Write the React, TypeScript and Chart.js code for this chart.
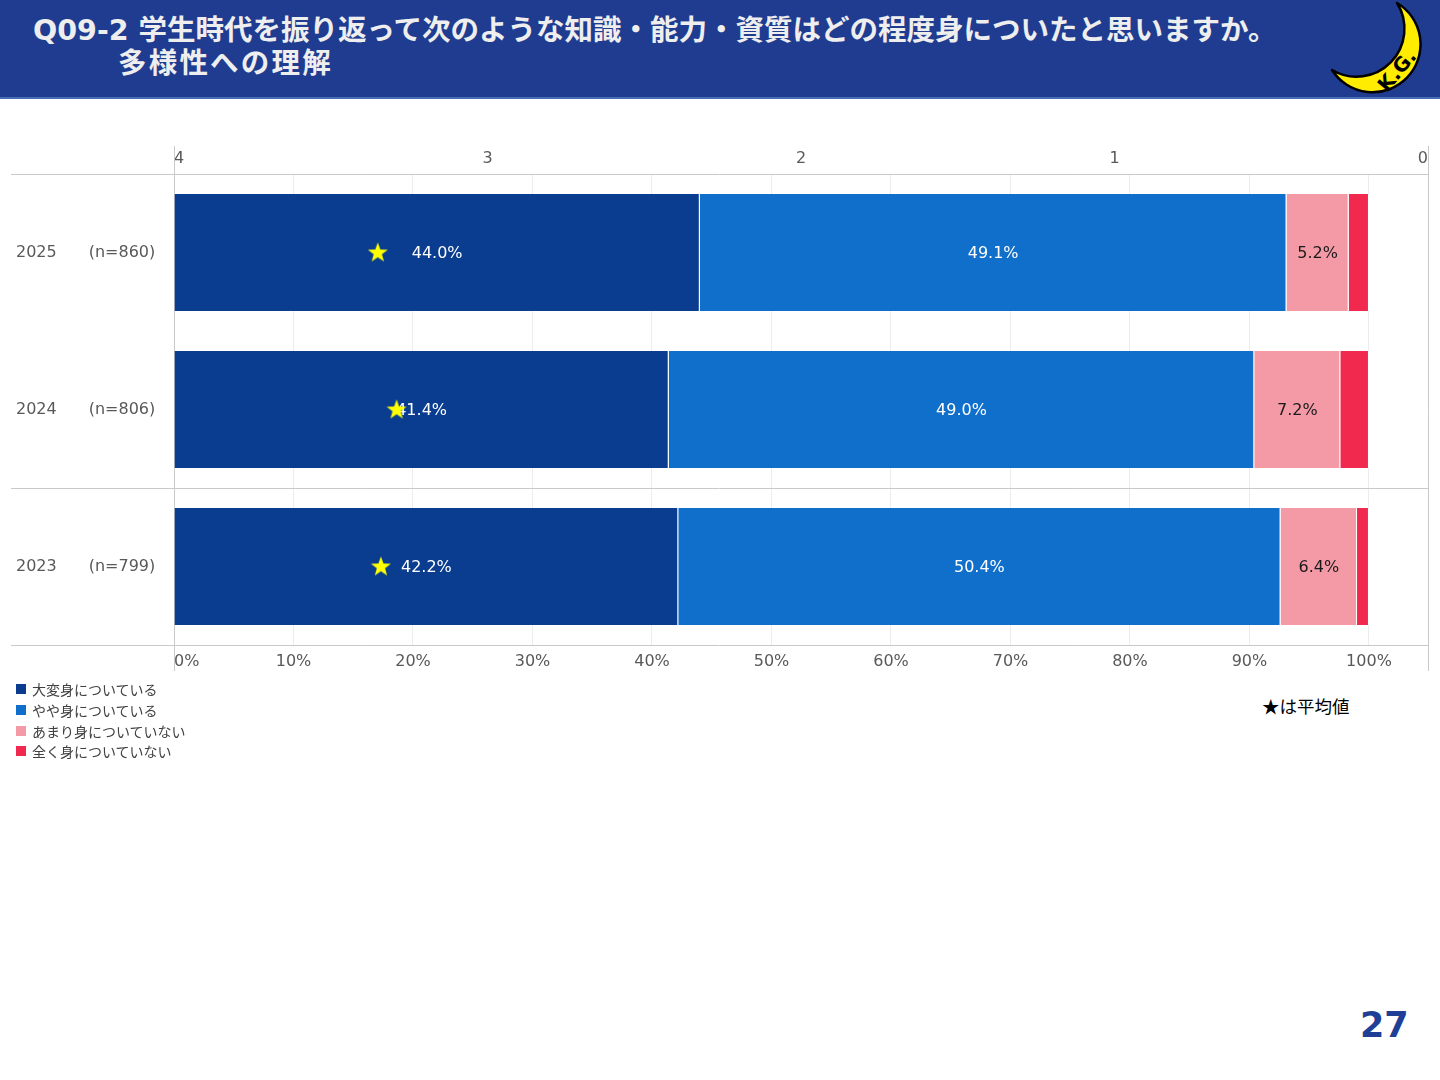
import React, { useEffect, useRef } from "react";
import { Chart, registerables } from "chart.js";

Chart.register(...registerables);

// ---- data ----
const categories = ["2025　　(n=860)", "2024　　(n=806)", "2023　　(n=799)"];
const seriesNames = ["大変身についている", "やや身についている", "あまり身についていない", "全く身についていない"];
const seriesColors = ["#0a3d8f", "#0f6fcb", "#f49aa7", "#f2294f"];
const labelColors = ["#ffffff", "#ffffff", "#1a1a1a", null];
const veryMuch = [44.0, 41.4, 42.2];
const somewhat = [49.1, 49.0, 50.4];
const notMuch = [5.2, 7.2, 6.4];
const notAtAll = [1.7, 2.4, 1.0];
const meanScores = [3.35, 3.29, 3.34];
const percentTicks = [0, 10, 20, 30, 40, 50, 60, 70, 80, 90, 100];
const percentAxisMax = 104.94;
const scoreTicks = [0, 1, 2, 3, 4];

const FONT = "'DejaVu Sans', 'Noto Sans CJK JP', sans-serif";

function makeStar(): HTMLCanvasElement {
  const c = document.createElement("canvas");
  c.width = 22;
  c.height = 22;
  const g = c.getContext("2d")!;
  g.fillStyle = "#ffff00";
  g.beginPath();
  const cx = 11, cy = 11.5, R = 10.5, r = 4.3;
  for (let i = 0; i < 10; i++) {
    const ang = -Math.PI / 2 + (i * Math.PI) / 5;
    const rad = i % 2 === 0 ? R : r;
    const px = cx + rad * Math.cos(ang);
    const py = cy + rad * Math.sin(ang);
    if (i === 0) g.moveTo(px, py);
    else g.lineTo(px, py);
  }
  g.closePath();
  g.fill();
  return c;
}

const decorPlugin = {
  id: "decor",
  beforeDatasetsDraw(chart: any) {
    const { ctx, chartArea } = chart;
    const y = chart.scales.y;
    ctx.save();
    ctx.strokeStyle = "#c9c9c9";
    ctx.lineWidth = 1;
    const step = (chartArea.bottom - chartArea.top) / categories.length;
    const bounds = [chartArea.top, y.getPixelForValue(1) + step / 2, chartArea.bottom];
    bounds.forEach((yy: number) => {
      const p = Math.round(yy) + 0.5;
      ctx.beginPath();
      ctx.moveTo(11, p);
      ctx.lineTo(chartArea.right, p);
      ctx.stroke();
    });
    [chartArea.left, chartArea.right].forEach((xx: number) => {
      const p = Math.round(xx) + 0.5;
      ctx.beginPath();
      ctx.moveTo(p, chartArea.top - 28);
      ctx.lineTo(p, chartArea.bottom + 26);
      ctx.stroke();
    });
    ctx.restore();
  },
  afterDatasetDraw(chart: any, args: any) {
    const i = args.index;
    if (i > 2) return;
    const color = labelColors[i];
    if (!color) return;
    const { ctx } = chart;
    const meta = chart.getDatasetMeta(i);
    const ds = chart.data.datasets[i];
    ctx.save();
    ctx.font = `16px ${FONT}`;
    ctx.fillStyle = color;
    ctx.textAlign = "center";
    ctx.textBaseline = "middle";
    meta.data.forEach((el: any, j: number) => {
      const v = ds.data[j];
      const cx = (el.x + el.base) / 2;
      ctx.fillText(`${v.toFixed(1)}%`, cx, el.y + 1);
    });
    ctx.restore();
  },
};

function ChartBox() {
  const ref = useRef<HTMLCanvasElement | null>(null);
  useEffect(() => {
    if (!ref.current) return;
    const star = makeStar();
    const series = [veryMuch, somewhat, notMuch, notAtAll];
    const barSets: any[] = series.map((vals, i) => ({
      type: "bar",
      label: seriesNames[i],
      data: vals,
      backgroundColor: seriesColors[i],
      borderColor: "#ffffff",
      borderWidth: { left: 0, right: 1, top: 0, bottom: 0 },
      borderSkipped: false,
      barPercentage: 0.745,
      categoryPercentage: 1,
      xAxisID: "x",
      yAxisID: "y",
      order: 1,
    }));
    const starSet: any = {
      type: "scatter",
      label: "平均値",
      data: meanScores.map((m, i) => ({ x: m, y: categories[i] })),
      xAxisID: "x2",
      yAxisID: "y",
      pointStyle: star,
      pointRadius: 10,
      order: 0,
    };
    const chart = new Chart(ref.current, {
      type: "bar",
      data: { labels: categories, datasets: [...barSets, starSet] },
      options: {
        indexAxis: "y",
        animation: false,
        responsive: false,
        maintainAspectRatio: false,
        layout: { padding: { left: 16, right: 12, top: 0, bottom: 0 } },
        plugins: { legend: { display: false }, tooltip: { enabled: false } },
        scales: {
          x: {
            type: "linear",
            position: "bottom",
            stacked: true,
            min: 0,
            max: percentAxisMax,
            afterBuildTicks: (s: any) => {
              s.ticks = [...percentTicks, percentAxisMax].map((v) => ({ value: v }));
            },
            afterFit: (s: any) => {
              s.height = 36;
            },
            ticks: {
              padding: 7,
              align: "inner",
              color: "#595959",
              font: { family: FONT, size: 16 },
              callback: (v: any) => (percentTicks.includes(v) ? `${v}%` : ""),
            },
            grid: { color: "#ececec", drawTicks: false },
            border: { display: false },
          },
          x2: {
            type: "linear",
            position: "top",
            min: 0,
            max: 4,
            reverse: true,
            afterBuildTicks: (s: any) => {
              s.ticks = scoreTicks.map((v) => ({ value: v }));
            },
            afterFit: (s: any) => {
              s.height = 33;
            },
            ticks: {
              padding: 6,
              align: "inner",
              color: "#595959",
              font: { family: FONT, size: 16 },
            },
            grid: { display: false, drawTicks: false },
            border: { display: false },
          },
          y: {
            type: "category",
            stacked: true,
            afterFit: (s: any) => {
              s.width = 158;
            },
            ticks: {
              crossAlign: "far",
              color: "#595959",
              font: { family: FONT, size: 16 },
            },
            grid: { display: false, drawTicks: false },
            border: { display: false },
          },
        },
      } as any,
      plugins: [decorPlugin],
    });
    return () => chart.destroy();
  }, []);
  return (
    <canvas
      ref={ref}
      width={1440}
      height={540}
      style={{ position: "absolute", left: 0, top: 141, width: 1440, height: 540 }}
    />
  );
}

export default function App() {
  return (
    <div
      style={{
        position: "fixed",
        left: 0,
        top: 0,
        width: 1440,
        height: 1080,
        background: "#ffffff",
        overflow: "hidden",
        fontFamily: FONT,
      }}
    >
      <div
        style={{
          position: "absolute",
          left: 0,
          top: 0,
          width: 1440,
          height: 97,
          background: "#1f3c91",
          borderBottom: "2px solid #4a6db5",
        }}
      >
        <div
          style={{
            position: "absolute",
            left: 33,
            top: 14,
            color: "#eeeeee",
            fontWeight: 700,
            fontSize: 28.5,
            lineHeight: "33px",
            whiteSpace: "nowrap",
          }}
        >
          <div>Q09-2 学生時代を振り返って次のような知識・能力・資質はどの程度身についたと思いますか。</div>
          <div style={{ paddingLeft: 85, letterSpacing: 2.2 }}>多様性への理解</div>
        </div>
        <svg
          width={110}
          height={100}
          viewBox="0 0 110 100"
          style={{ position: "absolute", left: 1326, top: 0 }}
        >
          <path
            d="M 71 3 A 48 48 0 1 1 6 70 A 48 48 0 0 0 71 3 Z"
            fill="#ffec00"
            stroke="#000000"
            strokeWidth={2.5}
            strokeLinejoin="round"
          />
          <text
            x={0}
            y={0}
            transform="translate(61 93) rotate(-50)"
            fontFamily="'DejaVu Sans', sans-serif"
            fontSize={20}
            fontWeight={700}
            fill="#000000"
          >
            K.G.
          </text>
        </svg>
      </div>

      <ChartBox />

      <div style={{ position: "absolute", left: 16, top: 679, fontSize: 14, color: "#404040" }}>
        {seriesNames.map((n, i) => (
          <div key={n} style={{ display: "flex", alignItems: "center", height: 20.7 }}>
            <span
              style={{
                display: "inline-block",
                width: 10,
                height: 10,
                background: seriesColors[i],
                marginRight: 6,
              }}
            />
            <span>{n}</span>
          </div>
        ))}
      </div>

      <div
        style={{
          position: "absolute",
          left: 1262,
          top: 693,
          fontSize: 17.5,
          color: "#000000",
          fontFamily: "'Noto Sans CJK JP', sans-serif",
        }}
      >
        ★は平均値
      </div>

      <div
        style={{
          position: "absolute",
          left: 1360,
          top: 1005,
          fontSize: 35,
          fontWeight: 700,
          color: "#1f3f96",
          fontFamily: "'DejaVu Sans', sans-serif",
        }}
      >
        27
      </div>
    </div>
  );
}
